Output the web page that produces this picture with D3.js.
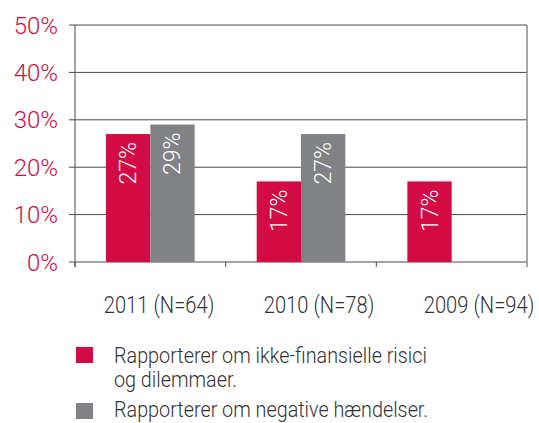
<!DOCTYPE html>
<html>
<head>
<meta charset="utf-8">
<script src="https://cdn.jsdelivr.net/npm/d3@7"></script>
<style>
  body { margin: 0; background: #fff; }
  text { font-family: Roboto, "Open Sans", sans-serif; }
</style>
</head>
<body>
<div class="chart"></div>
<script>
const categories = ["2011 (N=64)", "2010 (N=78)", "2009 (N=94)"];
const seriesNames = ["Rapporterer om ikke-finansielle risici\nog dilemmaer.", "Rapporterer om negative hændelser."];
const risici = [27, 17, 17];
const negative = [29, 27, null];
const yTicks = [0, 10, 20, 30, 40, 50];

const red = "#d20b45", gray = "#818285";
const width = 539, height = 423;
const plotLeft = 75, plotRight = 527, plotTop = 25, plotBottom = 262;

const svg = d3.select(".chart").append("svg")
    .attr("width", width).attr("height", height);

let x = d3.scaleBand().domain(categories).range([plotLeft, plotRight]);
let y = d3.scaleLinear().domain([0, 50]).range([plotBottom, plotTop]);
const barW = 44.3;

// gridlines + y labels
svg.append("g").selectAll("line").data(yTicks).enter().append("line")
    .attr("x1", plotLeft - 6).attr("x2", plotRight)
    .attr("y1", d => y(d)).attr("y2", d => y(d))
    .attr("stroke", "#4a4a4a").attr("stroke-width", 1);

svg.append("g").selectAll("text").data(yTicks).enter().append("text")
    .attr("x", 58).attr("y", d => y(d) + 8.5)
    .attr("text-anchor", "end")
    .attr("fill", red).attr("font-size", 24).attr("font-weight", 300)
    .text(d => d + "%");

// axis lines
svg.append("line").attr("x1", plotLeft).attr("x2", plotLeft).attr("y1", plotTop).attr("y2", plotBottom + 5)
    .attr("stroke", "#4a4a4a");
svg.append("line").attr("x1", plotRight).attr("x2", plotRight).attr("y1", plotTop).attr("y2", plotBottom + 5)
    .attr("stroke", "#8a8a8a").attr("stroke-width", 1.5);
svg.append("g").selectAll("line").data(categories).enter().append("line")
    .attr("x1", d => x(d)).attr("x2", d => x(d))
    .attr("y1", plotBottom).attr("y2", plotBottom + 5)
    .attr("stroke", "#4a4a4a");

// bars
const bars = [];
categories.forEach((c, i) => {
  bars.push({ c, v: risici[i], k: 0 });
  if (negative[i] != null) bars.push({ c, v: negative[i], k: 1 });
});

svg.append("g").selectAll("rect").data(bars).enter().append("rect")
    .attr("x", d => x(d.c) + x.bandwidth() / 2 - barW + d.k * barW)
    .attr("y", d => y(d.v))
    .attr("width", barW)
    .attr("height", d => plotBottom - y(d.v))
    .attr("fill", d => d.k ? gray : red);

svg.append("g").selectAll("text").data(bars).enter().append("text")
    .attr("transform", d => {
      const cx = x(d.c) + x.bandwidth() / 2 - barW / 2 + d.k * barW;
      return "translate(" + (cx + 8) + "," + (y(d.v) + 8) + ") rotate(-90)";
    })
    .attr("text-anchor", "end")
    .attr("fill", "#fff").attr("font-size", 23).attr("font-weight", 300)
    .text(d => d.v + "%");

// category labels (source font is condensed, so squeeze horizontally)
const catSx = 0.84;
let xl = d3.scalePoint().domain(categories).range([159, 479]);
svg.append("g").attr("transform", "scale(" + catSx + ",1)")
  .selectAll("text").data(categories).enter().append("text")
    .attr("x", d => xl(d) / catSx).attr("y", 313)
    .attr("text-anchor", "middle")
    .attr("fill", "#333").attr("font-size", 24).attr("font-weight", 300)
    .text(d => d);

// legend
const lgSx = 0.9;
const lg = svg.append("g");
const lgText = svg.append("g").attr("transform", "scale(" + lgSx + ",1)");
const legendY = [347, 403];
const legendBase = [363, 417];
seriesNames.forEach((name, i) => {
  lg.append("rect").attr("x", 76).attr("y", legendY[i]).attr("width", 17).attr("height", 16)
      .attr("fill", i ? gray : red);
  const t = lgText.append("text").attr("x", 114 / lgSx).attr("y", legendBase[i])
      .attr("fill", "#333").attr("font-size", 22).attr("font-weight", 300);
  name.split("\n").forEach((line, j) => {
    t.append("tspan").attr("x", 114 / lgSx).attr("dy", j ? 24 : 0).text(line);
  });
});
</script>
</body>
</html>
